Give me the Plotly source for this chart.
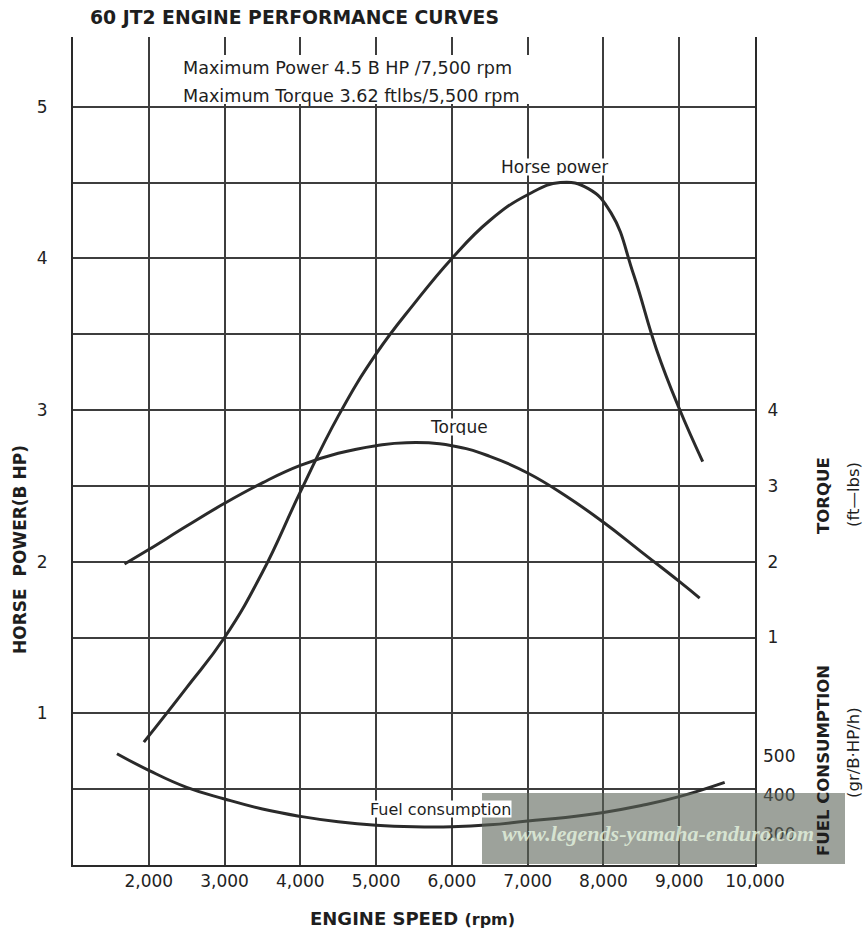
import plotly.graph_objects as go

# ---- data ----
rpm_hp = [1935, 2500, 3000, 3500, 4000, 4500, 5000, 5500, 6000, 6500, 7000, 7430, 7800, 8100, 8400, 8700, 9000, 9310]
hp_vals = [0.81, 1.17, 1.50, 1.93, 2.46, 2.96, 3.37, 3.70, 4.00, 4.25, 4.42, 4.50, 4.46, 4.30, 3.89, 3.40, 3.01, 2.66]

rpm_tq = [1680, 2000, 2500, 3000, 3500, 4000, 4500, 5000, 5400, 6000, 6500, 7000, 7500, 8000, 8500, 9000, 9270]
tq_vals = [1.97, 2.16, 2.47, 2.77, 3.04, 3.27, 3.43, 3.53, 3.57, 3.53, 3.39, 3.17, 2.87, 2.52, 2.13, 1.74, 1.52]

rpm_fc = [1580, 2000, 2500, 3000, 3500, 4000, 4500, 5000, 5500, 6000, 6500, 7000, 7500, 8000, 8500, 9000, 9600]
fc_vals = [507, 464, 420, 390, 364, 345, 331, 322, 318, 318, 323, 333, 342, 355, 373, 396, 433]

x_ticks = [2000, 3000, 4000, 5000, 6000, 7000, 8000, 9000, 10000]
x_ticktext = ["2,000", "3,000", "4,000", "5,000", "6,000", "7,000", "8,000", "9,000", "10,000"]
hp_ticks = [0.5, 1, 1.5, 2, 2.5, 3, 3.5, 4, 4.5, 5]
hp_ticktext = ["", "1", "", "2", "", "3", "", "4", "", "5"]
tq_ticks = [1, 2, 3, 4]
fc_ticks = [300, 400, 500]

# ---- axis calibration (how the right-hand scales sit against the HP grid) ----
HP_TOP = 5.46
# torque t sits at hp = 1 + 0.5 t
tq_range = [(0 - 1) / 0.5, (HP_TOP - 1) / 0.5]
# fuel f sits at hp = 0.716 + (f - 500) * 0.00255
fc_range = [500 + (0 - 0.716) / 0.00255, 500 + (HP_TOP - 0.716) / 0.00255]

W, H = 866, 935
ML, MR, MT, MB = 73, 111, 37, 70
PW, PH = W - ML - MR, H - MT - MB


def px(xp):
    return (xp - ML) / PW


def py(yp):
    return (H - MB - yp) / PH


INK = "#2a2a2a"
GRID = "#3d3d3d"
FONT = "DejaVu Sans"
TXT = "#1e1e1e"

fig = go.Figure()
line_style = dict(color=INK, width=3, shape="spline", smoothing=1.3)
fig.add_trace(go.Scatter(x=rpm_hp, y=hp_vals, mode="lines", line=line_style, yaxis="y", showlegend=False))
fig.add_trace(go.Scatter(x=rpm_tq, y=tq_vals, mode="lines", line=line_style, yaxis="y2", showlegend=False))
fig.add_trace(go.Scatter(x=rpm_fc, y=fc_vals, mode="lines", line=line_style, yaxis="y3", showlegend=False))

tickfont = dict(family=FONT, size=17, color="#222")

fig.update_layout(
    width=W, height=H,
    margin=dict(l=ML, r=MR, t=MT, b=MB),
    paper_bgcolor="white", plot_bgcolor="white",
    font=dict(family=FONT, color="#222"),
    xaxis=dict(
        range=[1000, 10000], tickvals=x_ticks, ticktext=x_ticktext,
        showgrid=True, gridcolor=GRID, gridwidth=1.5,
        showline=True, linecolor=INK, linewidth=2, ticks="",
        ticklabelstandoff=0, tickfont=tickfont, zeroline=False,
    ),
    yaxis=dict(
        range=[0, HP_TOP], tickvals=hp_ticks, ticktext=hp_ticktext,
        showgrid=True, gridcolor=GRID, gridwidth=1.5,
        showline=True, linecolor=INK, linewidth=2, ticks="",
        ticklabelstandoff=20, tickfont=tickfont, zeroline=False,
    ),
    yaxis2=dict(
        range=tq_range, tickvals=tq_ticks, overlaying="y", side="right", anchor="x",
        showgrid=False, showline=True, linecolor=INK, linewidth=2, ticks="",
        ticklabelstandoff=7, tickfont=tickfont, zeroline=False,
    ),
    yaxis3=dict(
        range=fc_range, tickvals=fc_ticks, overlaying="y", side="right", anchor="x",
        showgrid=False, showline=False, ticks="",
        ticklabelstandoff=7, tickfont=tickfont, zeroline=False,
    ),
)

shapes = [
    # white patch behind the spec text (breaks the grid lines as in the print)
    dict(type="rect", xref="paper", yref="paper", x0=px(176), x1=px(536), y0=py(104), y1=py(55),
         fillcolor="white", line=dict(width=0), layer="above"),
    # watermark band
    dict(type="rect", xref="paper", yref="paper", x0=px(482), x1=px(845), y0=py(864), y1=py(793),
         fillcolor="rgba(92,100,88,0.6)", line=dict(width=0), layer="above"),
]
fig.update_layout(shapes=shapes)

ann = []
ann.append(dict(xref="paper", yref="paper", x=px(88), y=py(18), xanchor="left", yanchor="middle",
                text="<b>60 JT2 ENGINE PERFORMANCE CURVES</b>", showarrow=False,
                font=dict(family=FONT, size=18.8, color=TXT)))
ann.append(dict(xref="paper", yref="paper", x=px(181), y=py(68), xanchor="left", yanchor="middle",
                text="Maximum Power 4.5 B HP /7,500 rpm", showarrow=False,
                font=dict(family=FONT, size=17.6, color=TXT)))
ann.append(dict(xref="paper", yref="paper", x=px(181), y=py(96), xanchor="left", yanchor="middle",
                text="Maximum Torque 3.62 ftlbs/5,500 rpm", showarrow=False,
                font=dict(family=FONT, size=17.6, color=TXT)))
# curve labels
lab_font = dict(family=FONT, size=17, color=TXT)
ann.append(dict(x=7350, y=4.6, xref="x", yref="y", text="Horse power", showarrow=False,
                font=lab_font, bgcolor="white", height=16, borderpad=0))
ann.append(dict(x=6100, y=2.89, xref="x", yref="y", text="Torque", showarrow=False,
                font=lab_font, bgcolor="white", height=16, borderpad=0))
ann.append(dict(x=5850, y=0.37, xref="x", yref="y", text="Fuel consumption", showarrow=False,
                font=dict(family=FONT, size=16, color=TXT), bgcolor="white", height=16, borderpad=0))
# axis titles
ann.append(dict(xref="paper", yref="paper", x=px(412), y=py(918), xanchor="center", yanchor="middle",
                text="<b>ENGINE SPEED <span style='font-size:16px'>(rpm)</span></b>", showarrow=False,
                font=dict(family=FONT, size=18, color=TXT)))
ann.append(dict(xref="paper", yref="paper", x=px(20), y=py(550), xanchor="center", yanchor="middle",
                text="<b>HORSE  POWER(B HP)</b>", showarrow=False, textangle=-90,
                font=dict(family=FONT, size=17, color=TXT)))
ann.append(dict(xref="paper", yref="paper", x=px(823), y=py(495), xanchor="center", yanchor="middle",
                text="<b>TORQUE</b>", showarrow=False, textangle=-90,
                font=dict(family=FONT, size=16.5, color=TXT)))
ann.append(dict(xref="paper", yref="paper", x=px(853), y=py(495), xanchor="center", yanchor="middle",
                text="(ft—lbs)", showarrow=False, textangle=-90,
                font=dict(family=FONT, size=16.5, color=TXT)))
ann.append(dict(xref="paper", yref="paper", x=px(823), y=py(760), xanchor="center", yanchor="middle",
                text="<b>FUEL CONSUMPTION</b>", showarrow=False, textangle=-90,
                font=dict(family=FONT, size=16.5, color=TXT)))
ann.append(dict(xref="paper", yref="paper", x=px(853), y=py(753), xanchor="center", yanchor="middle",
                text="(gr/B·HP/h)", showarrow=False, textangle=-90,
                font=dict(family=FONT, size=16.5, color=TXT)))
# watermark text
ann.append(dict(xref="paper", yref="paper", x=px(658), y=py(833), xanchor="center", yanchor="middle",
                text="<b><i>www.legends-yamaha-enduro.com</i></b>", showarrow=False,
                font=dict(family="Liberation Serif", size=22, color="rgba(225,240,220,0.85)")))
fig.update_layout(annotations=ann)

fig.write_html("out.html", config={"displayModeBar": False},
               post_script="document.body.style.margin='0px';")
